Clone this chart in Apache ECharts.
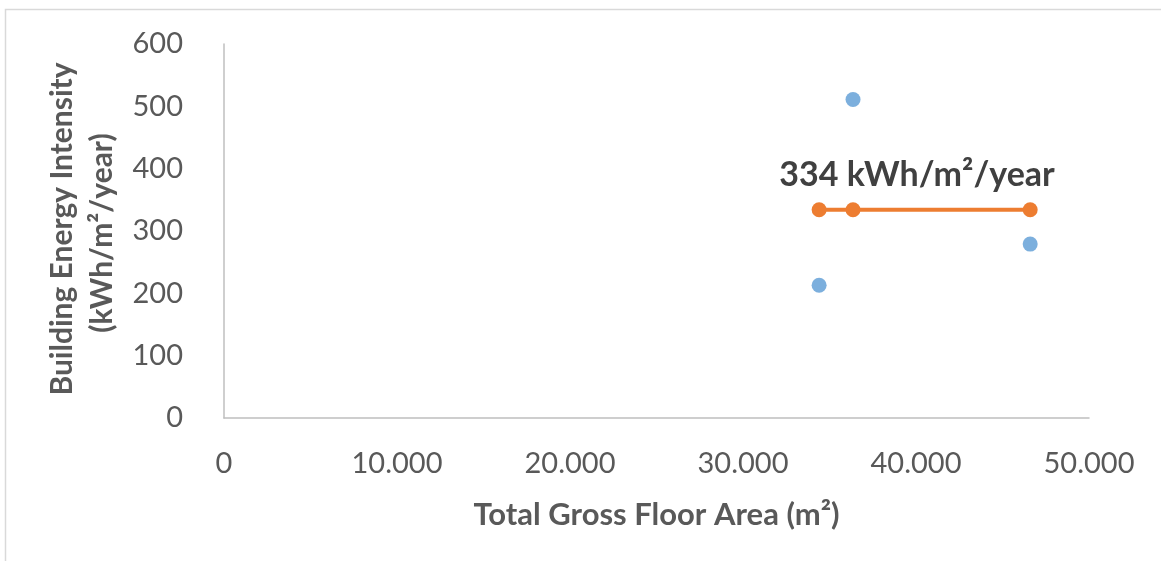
<!DOCTYPE html>
<html>
<head>
<meta charset="utf-8">
<script src="https://cdn.jsdelivr.net/npm/echarts@6/dist/echarts.min.js"></script>
<style>
  html, body { margin: 0; padding: 0; background: #ffffff; }
  #chart { width: 1161px; height: 561px; }
</style>
</head>
<body>
<div id="chart"></div>
<script>
// Buildings: gross floor area (m²) and energy intensity (kWh/m²/year)
const floorArea = [34400, 36360, 46600];
const energyIntensity = [213, 511, 279];
// Average intensity across the buildings
const averageIntensity = [334, 334, 334];
const averageLabel = '334 kWh/m\u00B2/year';
const xTicks = { min: 0, max: 50000, interval: 10000 };
const yTicks = { min: 0, max: 600, interval: 100 };

const FONT = 'Lato, "Open Sans", sans-serif';
const GREY = '#595959';

const buildingPoints = floorArea.map((x, i) => [x, energyIntensity[i]]);
const averagePoints = floorArea
  .map((x, i) => [x, averageIntensity[i]])
  .sort((a, b) => a[0] - b[0]);

function thousands(v) {
  return String(v).replace(/\B(?=(\d{3})+(?!\d))/g, '.');
}

const chart = echarts.init(document.getElementById('chart'), null, { renderer: 'canvas' });
chart.setOption({
  animation: false,
  backgroundColor: '#ffffff',
  grid: { left: 224, right: 72, top: 44, bottom: 143 },
  graphic: [
    {
      type: 'rect',
      shape: { x: 5.5, y: 9.5, width: 1300, height: 700 },
      style: { fill: 'none', stroke: '#d9d9d9', lineWidth: 1.5 },
      silent: true
    },
    {
      type: 'text',
      rotation: Math.PI / 2,
      x: 62, y: 229,
      style: {
        text: 'Building Energy Intensity',
        font: 'bold 30px ' + FONT,
        fill: GREY,
        align: 'center',
        verticalAlign: 'middle'
      }
    },
    {
      type: 'text',
      rotation: Math.PI / 2,
      x: 102, y: 233,
      style: {
        text: '(kWh/m\u00B2/year)',
        font: 'bold 30px ' + FONT,
        fill: GREY,
        align: 'center',
        verticalAlign: 'middle'
      }
    }
  ],
  xAxis: {
    type: 'value',
    min: xTicks.min,
    max: xTicks.max,
    interval: xTicks.interval,
    name: 'Total Gross Floor Area (m\u00B2)',
    nameLocation: 'middle',
    nameGap: 81,
    nameTextStyle: { fontFamily: FONT, fontWeight: 'bold', fontSize: 31, color: GREY },
    axisLine: { show: true, lineStyle: { color: '#bfbfbf', width: 1.5 } },
    axisTick: { show: false },
    splitLine: { show: false },
    axisLabel: {
      margin: 31,
      fontFamily: FONT,
      fontSize: 29,
      color: GREY,
      formatter: v => thousands(v)
    }
  },
  yAxis: {
    type: 'value',
    min: yTicks.min,
    max: yTicks.max,
    interval: yTicks.interval,
    axisLine: { show: true, lineStyle: { color: '#bfbfbf', width: 1.5 } },
    axisTick: { show: false },
    splitLine: { show: false },
    axisLabel: {
      margin: 41,
      fontFamily: FONT,
      fontSize: 29,
      color: GREY
    }
  },
  series: [
    {
      name: 'Buildings',
      type: 'scatter',
      data: buildingPoints,
      symbol: 'circle',
      symbolSize: 15,
      itemStyle: { color: '#5b9bd5' },
      z: 3
    },
    {
      name: 'Average',
      type: 'line',
      data: averagePoints.map((p, i) => ({
        value: p,
        label: i === 1 ? {
          show: true,
          position: 'inside',
          offset: [64, -35],
          formatter: averageLabel,
          fontFamily: FONT,
          fontWeight: 'bold',
          fontSize: 34,
          color: '#404040'
        } : { show: false }
      })),
      symbol: 'circle',
      symbolSize: 15,
      showSymbol: true,
      lineStyle: { color: '#ed7d31', width: 4 },
      itemStyle: { color: '#ed7d31' },
      z: 4
    }
  ]
});
</script>
</body>
</html>
